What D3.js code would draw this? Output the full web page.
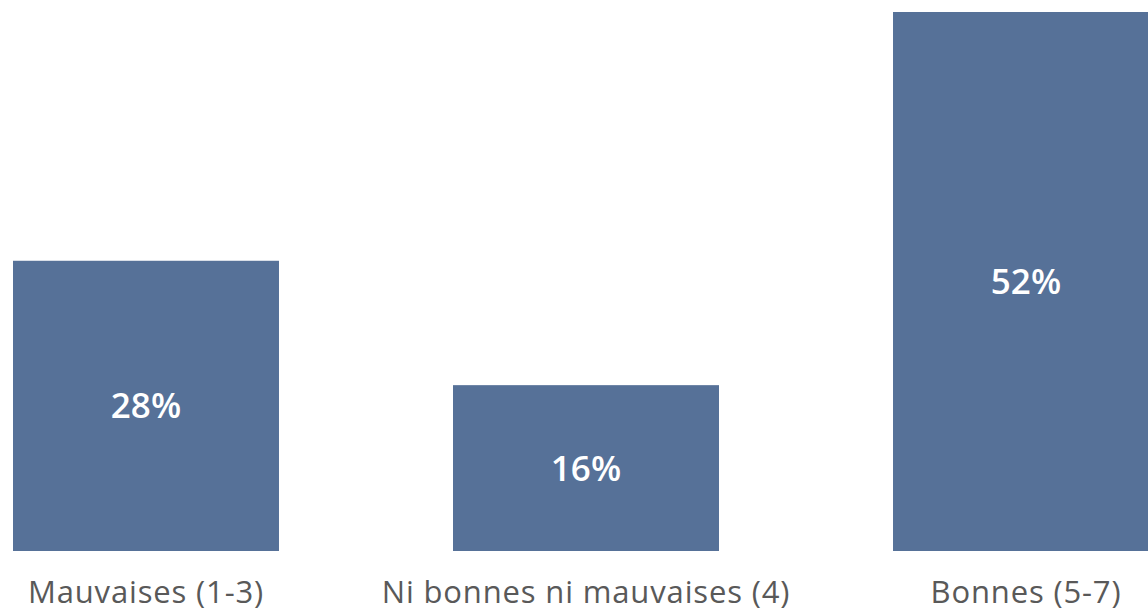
<!DOCTYPE html>
<html><head><meta charset="utf-8">
<script src="https://cdn.jsdelivr.net/npm/d3@7"></script>
<style>body{margin:0;background:#fff;overflow:hidden}svg{display:block}</style>
</head><body>
<svg id="c" width="1148" height="613"></svg>
<script>
const categories = ["Mauvaises (1-3)", "Ni bonnes ni mauvaises (4)", "Bonnes (5-7)"];
const values = [28, 16, 52];
const valueLabels = ["28%", "16%", "52%"];

const svg = d3.select("#c");
const baseY = 551;
const x = d3.scaleBand().domain(categories).range([13, 1159]).paddingInner(0.3955).paddingOuter(0);
const y = d3.scaleLinear().domain([0, 52]).range([baseY, 12]);

svg.selectAll("rect.bar").data(categories).join("rect")
  .attr("class", "bar")
  .attr("x", d => x(d)).attr("width", x.bandwidth())
  .attr("y", (d, i) => y(values[i])).attr("height", (d, i) => baseY - y(values[i]))
  .attr("fill", "#567198");

svg.selectAll("text.val").data(categories).join("text")
  .attr("class", "val")
  .attr("x", d => x(d) + x.bandwidth() / 2)
  .attr("y", (d, i) => (y(values[i]) + baseY) / 2)
  .attr("dy", "0.36em")
  .attr("text-anchor", "middle")
  .attr("fill", "#fff")
  .style("font-family", "'Open Sans', sans-serif").style("font-weight", 600).style("font-size", "35px")
  .text((d, i) => valueLabels[i]);

const xAxis = d3.axisBottom(x).tickSize(0).tickPadding(0);
const g = svg.append("g").attr("transform", `translate(0,${baseY})`).call(xAxis);
g.select(".domain").remove();
g.selectAll("text").attr("y", 52).attr("dy", 0)
  .attr("fill", "#595959")
  .style("font-family", "'Open Sans', sans-serif").style("font-size", "31px")
  .style("letter-spacing", "0.85px");
</script>
</body></html>
